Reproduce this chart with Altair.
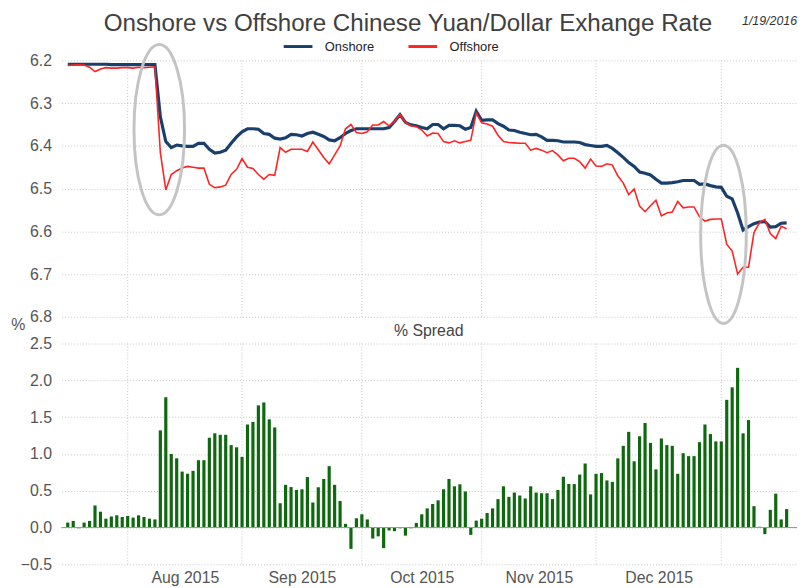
import altair as alt
import pandas as pd

# ---------------- data (weekday index 0 = 17 Jul 2015 ... 132 = 19 Jan 2016) ----------------
onshore = [
    6.209, 6.209, 6.209, 6.209, 6.209, 6.209, 6.209, 6.209, 6.210, 6.210,
    6.210, 6.210, 6.210, 6.210, 6.210, 6.210, 6.210,
    6.332, 6.390, 6.404, 6.398, 6.400, 6.401, 6.401, 6.394, 6.394, 6.408,
    6.417, 6.415, 6.410, 6.394, 6.379, 6.367, 6.360, 6.360, 6.361, 6.371,
    6.373, 6.382, 6.384, 6.381, 6.373, 6.374, 6.377, 6.371, 6.368, 6.373,
    6.378, 6.386, 6.388, 6.381, 6.371, 6.364, 6.360, 6.360, 6.360, 6.360,
    6.360, 6.360, 6.357, 6.343, 6.327, 6.345, 6.351, 6.353, 6.357, 6.360,
    6.350, 6.350, 6.360, 6.352, 6.352, 6.353, 6.361, 6.357, 6.319, 6.340,
    6.339, 6.339, 6.348, 6.354, 6.363, 6.364, 6.368, 6.371, 6.374, 6.373,
    6.379, 6.387, 6.387, 6.388, 6.391, 6.391, 6.391, 6.392, 6.397, 6.399,
    6.401, 6.401, 6.399, 6.406, 6.416, 6.427, 6.439, 6.448, 6.461, 6.464,
    6.468, 6.478, 6.487, 6.487, 6.486, 6.484, 6.481, 6.481, 6.481, 6.490,
    6.489, 6.493, 6.496, 6.497, 6.518, 6.524, 6.557, 6.597, 6.589, 6.582,
    6.578, 6.577, 6.590, 6.589, 6.581, 6.580,
]
offshore = [
    6.212, 6.211, 6.210, 6.211, 6.216, 6.226, 6.220, 6.217, 6.218, 6.218,
    6.217, 6.217, 6.218, 6.216, 6.217, 6.216, 6.215,
    6.416, 6.503, 6.467, 6.458, 6.452, 6.448, 6.450, 6.452, 6.452, 6.490,
    6.498, 6.496, 6.492, 6.467, 6.455, 6.430, 6.450, 6.453, 6.467, 6.478,
    6.467, 6.469, 6.404, 6.415, 6.408, 6.408, 6.408, 6.413, 6.391, 6.409,
    6.427, 6.442, 6.421, 6.400, 6.360, 6.350, 6.369, 6.371, 6.367, 6.351,
    6.351, 6.343, 6.353, 6.343, 6.327, 6.345, 6.353, 6.355, 6.363, 6.377,
    6.370, 6.371, 6.390, 6.393, 6.388, 6.393, 6.390, 6.387, 6.323, 6.346,
    6.349, 6.354, 6.375, 6.390, 6.392, 6.393, 6.394, 6.394, 6.410, 6.406,
    6.410, 6.416, 6.411, 6.421, 6.435, 6.429, 6.429, 6.437, 6.452, 6.431,
    6.447, 6.448, 6.442, 6.445, 6.470, 6.487, 6.514, 6.501, 6.541, 6.554,
    6.540, 6.527, 6.564, 6.557, 6.555, 6.530, 6.545, 6.543, 6.543, 6.566,
    6.576, 6.572, 6.571, 6.571, 6.630, 6.646, 6.700, 6.684, 6.684, 6.603,
    6.580, 6.572, 6.605, 6.617, 6.588, 6.594,
]
spread = [
    0.067, 0.09, -0.01, 0.067, 0.09, 0.30, 0.215, 0.12, 0.15, 0.166,
    0.143, 0.157, 0.135, 0.166, 0.143, 0.12, 0.11,
    1.32, 1.77, 1.00, 0.94, 0.76, 0.73, 0.77, 0.915, 0.915, 1.22,
    1.28, 1.26, 1.26, 1.12, 1.09, 0.96, 1.40, 1.435, 1.66, 1.70,
    1.47, 1.36, 0.33, 0.58, 0.55, 0.51, 0.52,
    0.686, 0.34, 0.547, 0.66, 0.834, 0.58, 0.36, 0.05, -0.29, 0.125,
    0.18, 0.11, -0.15, -0.12, -0.28, -0.04, -0.05, -0.01, -0.11, -0.01,
    0.063, 0.18, 0.26, 0.32, 0.37, 0.52, 0.66, 0.56, 0.587, 0.49,
    -0.10, 0.094, 0.12, 0.197, 0.26, 0.386, 0.56, 0.417, 0.475, 0.435,
    0.395, 0.56, 0.475, 0.466, 0.466,
    0.386, 0.51, 0.69, 0.59, 0.59, 0.72, 0.87, 0.45, 0.73, 0.74,
    0.64, 0.62, 0.94, 1.11, 1.30, 0.90, 1.24, 1.42, 1.15, 0.79,
    1.21, 1.12, 1.11, 0.73, 1.01, 0.97, 0.97, 1.16, 1.40, 1.27,
    1.17, 1.17, 1.735, 1.905, 2.17, 1.28, 1.46, 0.29, 0.01, -0.09,
    0.24, 0.46, 0.11, 0.25,
]
day_index = list(range(len(onshore)))

month_start_index = [11, 32, 54, 76, 97, 120]
month_label_pos = [21.5, 43, 65, 86.5, 108.5]
month_labels = ["Aug 2015", "Sep 2015", "Oct 2015", "Nov 2015", "Dec 2015"]

y_ticks_rate = [6.2, 6.3, 6.4, 6.5, 6.6, 6.7, 6.8]
y_ticks_spread = [-0.5, 0.0, 0.5, 1.0, 1.5, 2.0, 2.5]

ellipse_id = ["aug", "jan"]
ellipse_idx = [16.8, 120.4]
ellipse_rate = [6.362, 6.607]

series_names = ["Onshore", "Offshore"]
series_colors = ["#193f6c", "#ff2424"]

title_text = "Onshore vs Offshore Chinese Yuan/Dollar Exhange Rate"
date_text = "1/19/2016"
spread_title = "% Spread"

# ---------------- tables ----------------
lines_df = pd.DataFrame({
    "idx": day_index * 2,
    "rate": onshore + offshore,
    "series": ["Onshore"] * len(onshore) + ["Offshore"] * len(offshore),
})
spread_df = pd.DataFrame({"idx": day_index, "spread": spread})
grid_df = pd.DataFrame({"idx": month_start_index})
ell_df = pd.DataFrame({"id": ellipse_id, "idx": ellipse_idx, "rate": ellipse_rate})
one = pd.DataFrame({"t": [0]})

# ---------------- styling ----------------
W, H = 743, 509
TOP_H = 259
BOT_TOP, BOT_BOT = 286, 509
GRID = "#c6c6c6"
LABEL = "#555555"

label_expr = " : ".join(
    f"datum.value == {p} ? '{l}'" for p, l in zip(month_label_pos, month_labels)
) + " : ''"

x_axis = alt.Axis(values=month_label_pos, labelExpr=label_expr, grid=False, ticks=False,
                  domain=False, labelFontSize=16, labelColor=LABEL, labelPadding=5,
                  labelOverlap=False, labelFlush=False, title=None)
x_scale = alt.Scale(domain=[-0.25, 133.0], nice=False, zero=False)
X = alt.X("idx:Q", scale=x_scale, axis=x_axis)

rate_scale = alt.Scale(domain=[6.2, 6.8], range=[0, TOP_H], nice=False, zero=False)
rate_axis = alt.Axis(values=y_ticks_rate, format=".1f", grid=True, ticks=False, domain=False,
                     labelPadding=10, labelFontSize=16, labelColor=LABEL, title=None,
                     gridColor=GRID, gridDash=[1, 2], orient="left")
spread_scale = alt.Scale(domain=[-0.5, 2.5], range=[BOT_BOT, BOT_TOP], nice=False, zero=False)
spread_axis = alt.Axis(values=y_ticks_spread, format=".1f", grid=True, ticks=False, domain=False,
                       labelPadding=10, labelFontSize=16, labelColor=LABEL, title="%",
                       titleAngle=0, titleX=-44, titleY=267, titleAlign="center",
                       titleBaseline="middle", titleFontSize=16, titleFontWeight="normal",
                       titleColor=LABEL, gridColor=GRID, gridDash=[1, 2], orient="left")

color = alt.Color("series:N", scale=alt.Scale(domain=series_names, range=series_colors),
                  legend=alt.Legend(orient="none", legendX=223, legendY=-30, direction="horizontal",
                                    title=None, symbolType="stroke", symbolSize=841,
                                    symbolStrokeWidth=3, labelFontSize=13, labelColor="#222222",
                                    columnPadding=28, labelOffset=11))


def ellipse_path(a):
    k = 0.5523
    return (f"M 0,-1 C {k*a:.4f},-1 {a:.4f},{-k:.4f} {a:.4f},0 "
            f"C {a:.4f},{k:.4f} {k*a:.4f},1 0,1 "
            f"C {-k*a:.4f},1 {-a:.4f},{k:.4f} {-a:.4f},0 "
            f"C {-a:.4f},{-k:.4f} {-k*a:.4f},-1 0,-1 Z")


# ---------------- top panel ----------------
vr_top = alt.Chart(grid_df).mark_rule(color=GRID, strokeDash=[1, 2], strokeWidth=1).encode(
    x=X, y=alt.value(0), y2=alt.value(TOP_H))

base_lines = alt.Chart(lines_df)
line_on = base_lines.transform_filter("datum.series == 'Onshore'").mark_line(
    strokeWidth=3.2).encode(x=X, y=alt.Y("rate:Q", scale=rate_scale, axis=rate_axis), color=color)
line_off = base_lines.transform_filter("datum.series == 'Offshore'").mark_line(
    strokeWidth=1.6).encode(x=X, y=alt.Y("rate:Q", scale=rate_scale, axis=rate_axis), color=color)

ell1 = alt.Chart(ell_df).transform_filter("datum.id == 'aug'").mark_point(
    shape=ellipse_path(0.297), size=29584, filled=False, stroke="#c4c4c4", strokeWidth=3,
    opacity=1).encode(x=X, y=alt.Y("rate:Q", scale=rate_scale, axis=rate_axis))
ell2 = alt.Chart(ell_df).transform_filter("datum.id == 'jan'").mark_point(
    shape=ellipse_path(0.256), size=32400, filled=False, stroke="#c4c4c4", strokeWidth=3,
    opacity=1).encode(x=X, y=alt.Y("rate:Q", scale=rate_scale, axis=rate_axis))

title_mark = alt.Chart(one).mark_text(text=title_text, fontSize=24.4, color="#404040",
                                      align="center", baseline="alphabetic").encode(
    x=alt.value(350), y=alt.value(-30))
date_mark = alt.Chart(one).mark_text(text=date_text, fontSize=12.5, fontStyle="italic",
                                     color="#333333", align="right", baseline="middle").encode(
    x=alt.value(W), y=alt.value(-40))

top = alt.layer(vr_top, line_on, line_off, ell1, ell2, title_mark, date_mark)

# ---------------- bottom panel ----------------
vr_bot = alt.Chart(grid_df).mark_rule(color=GRID, strokeDash=[1, 2], strokeWidth=1).encode(
    x=X, y=alt.value(BOT_TOP), y2=alt.value(BOT_BOT))
bars = alt.Chart(spread_df).mark_bar(width=3.2, color="#0e680e").encode(
    x=X, y=alt.Y("spread:Q", scale=spread_scale, axis=spread_axis))
zero = alt.Chart(one).mark_rule(color="#9a9a9a", strokeWidth=1.2).encode(
    y=alt.Y("t:Q", scale=spread_scale, axis=spread_axis))
spread_label = alt.Chart(one).mark_text(text=spread_title, fontSize=16, color="#444444",
                                        align="center", baseline="middle").encode(
    x=alt.value(371), y=alt.value(273))

bottom = alt.layer(vr_bot, bars, zero, spread_label)

chart = alt.layer(top, bottom).resolve_scale(y="independent").properties(
    width=W, height=H,
    autosize=alt.AutoSizeParams(type="none"),
    padding={"left": 54, "top": 50, "right": 4, "bottom": 22},
).configure(font="Liberation Sans").configure_view(stroke=None)

chart.save("out.html", embed_options={"renderer": "svg", "actions": False})
